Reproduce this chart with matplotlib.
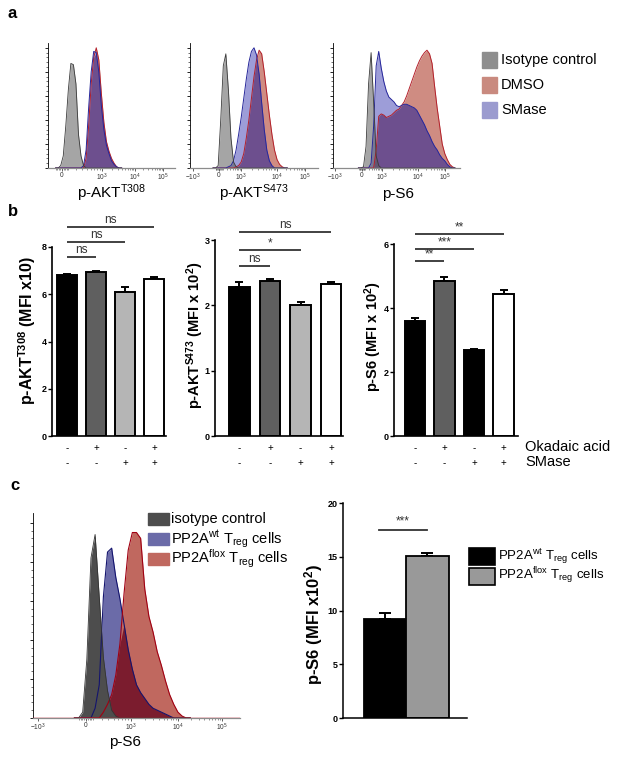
import matplotlib
matplotlib.use('Agg')
import matplotlib.pyplot as plt
import matplotlib.transforms as mtransforms
from matplotlib.patches import Rectangle
import numpy as np

plt.rcParams['font.family'] = ['Liberation Sans', 'DejaVu Sans']
plt.rcParams['mathtext.fontset'] = 'custom'
plt.rcParams['mathtext.rm'] = 'Liberation Sans'
plt.rcParams['mathtext.bf'] = 'Liberation Sans:bold'
plt.rcParams['mathtext.it'] = 'Liberation Sans:italic'
plt.rcParams['mathtext.default'] = 'regular'

# ---------------- data ----------------
# panel a: flow histograms, display channel (0-100) vs % of max
a1_chan = np.arange(6, 60, 2)
a1_iso = [0, 0, 2, 10, 35, 65, 87, 86, 70, 28, 10, 2, 0,
          0, 0, 0, 0, 0, 0, 0, 0, 0, 0, 0, 0, 0, 0]
a1_dmso = [0, 0, 0, 0, 0, 0, 0, 0, 0, 0, 0,
           0, 8, 35, 70, 92, 100, 90, 62, 38, 22, 14, 8, 4, 1, 0, 0]
a1_smase = [0, 0, 0, 0, 0, 0, 0, 0, 0, 0, 0,
            2, 15, 50, 80, 97, 96, 80, 52, 32, 19, 12, 6, 3, 1, 0, 0]

a2_chan = np.arange(18, 78, 2)
a2_iso = [0, 0, 2, 40, 85, 95, 65, 25, 5, 1, 0,
          0, 0, 0, 0, 0, 0, 0, 0, 0, 0, 0, 0, 0, 0, 0, 0, 0, 0, 0]
a2_smase = [0, 0, 0, 0, 0, 0,
            1, 2, 6, 15, 28, 42, 58, 74, 88, 97, 100, 94, 78, 54, 32, 15, 6, 2, 0,
            0, 0, 0, 0, 0]
a2_dmso = [0, 0, 0, 0, 0, 0, 0, 0, 0,
           1, 2, 5, 12, 25, 40, 58, 76, 90, 98, 95, 80, 62, 44, 28, 15, 7, 3, 1, 0, 0]

a3_chan = np.arange(20, 98, 2)
a3_iso = [0, 0, 1, 18, 70, 96, 55, 10, 2, 0] + [0] * 29
a3_smase = [0, 0, 0, 0, 0,
            4, 35, 85, 97, 83, 72, 64, 59, 57, 55, 52, 51, 52, 53, 53, 52, 51, 50,
            48, 44, 40, 36, 31, 27, 22, 18, 15, 11, 8, 6, 3, 1, 0, 0]
a3_dmso = [0, 0, 0, 0, 0, 0, 0,
           15, 43, 45, 44, 42, 43, 44, 46, 48, 49, 52, 55, 60, 66, 72, 78, 84, 89,
           93, 96, 98, 95, 87, 68, 50, 35, 20, 12, 7, 3, 1, 0]

# panel b: MFI bars
treat_labels = ['Okadaic acid', 'SMase']
okadaic = ['-', '+', '-', '+']
smase = ['-', '-', '+', '+']
akt308_mean = [6.80, 6.93, 6.10, 6.65]
akt308_err = [0.07, 0.05, 0.21, 0.09]
akt473_mean = [2.28, 2.38, 2.00, 2.32]
akt473_err = [0.08, 0.02, 0.05, 0.03]
s6_mean = [3.59, 4.84, 2.69, 4.44]
s6_err = [0.09, 0.14, 0.03, 0.12]
akt308_sig = ['ns', 'ns', 'ns']      # vs bar 2, 3, 4
akt473_sig = ['ns', '*', 'ns']
s6_sig = ['**', '***', '**']

# panel c
c_chan = np.arange(20, 78, 2)
c_iso = [0, 0, 3, 30, 82, 94, 62, 31, 14, 4, 1, 0] + [0] * 17
c_wt = [0, 0, 0, 0, 0,
        5, 17, 62, 85, 87, 72, 61, 48, 35, 25, 17, 13, 10, 7, 5, 4, 3, 2, 1, 0, 0, 0, 0, 0]
c_flox = [0, 0, 0, 0, 0, 0,
          0, 3, 7, 12, 22, 38, 64, 86, 95, 95, 92, 66, 52, 44, 34, 27, 19, 12, 7, 3, 1, 0, 0]
c_groups = [r'PP2A$^{wt}$ T$_{reg}$ cells', r'PP2A$^{flox}$ T$_{reg}$ cells']
c_mean = [9.2, 15.07]
c_err = [0.57, 0.30]
c_sig = '***'

# ---------------- figure ----------------
W, H = 618, 759
fig = plt.figure(figsize=(W / 100, H / 100), dpi=100)


def px_axes(x0, y0, x1, y1):
    return fig.add_axes([x0 / W, 1 - y1 / H, (x1 - x0) / W, (y1 - y0) / H])


def ftext(x, y, s, **kw):
    return fig.text(x / W, 1 - y / H, s, **kw)


def biex_minor(p0, p3, p4, p5):
    out = []
    d = p3 - p0
    for f in [-0.16, -0.12, -0.08, -0.04, 0.04, 0.08, 0.12, 0.16, 0.35, 0.5, 0.62, 0.72, 0.8, 0.87, 0.94]:
        out.append(p0 + f * d)
    for a, b in [(p3, p4), (p4, p5)]:
        for m in range(2, 10):
            out.append(a + (b - a) * np.log10(m))
    return [p for p in out if 0 <= p <= 100]


def hist_axes(ax, ticks, labels, ytop, axis_color='#8c8c8c'):
    ax.set_xlim(0, 100)
    ax.set_ylim(0, ytop)
    ax.spines['top'].set_visible(False)
    ax.spines['right'].set_visible(False)
    ax.spines['left'].set_linewidth(0.6)
    ax.spines['bottom'].set_color(axis_color)
    ax.spines['bottom'].set_linewidth(0.9)
    ax.set_yticks(np.arange(0, 101, 20))
    ax.set_yticks(np.arange(0, 101, 4), minor=True)
    ax.set_yticklabels([])
    ax.tick_params(axis='y', which='major', length=2.5, width=0.6)
    ax.tick_params(axis='y', which='minor', length=1.2, width=0.4)
    ax.set_xticks(ticks, labels)
    p0 = ticks[labels.index('0')]
    ax.set_xticks(biex_minor(p0, ticks[-3], ticks[-2], ticks[-1]), minor=True)
    ax.tick_params(axis='x', which='major', length=2.5, width=0.6, color='#444444',
                   labelsize=4.8, pad=0.5, labelcolor='#333333')
    ax.tick_params(axis='x', which='minor', length=1.4, width=0.4, color='#444444')
    ax.set_facecolor('none')


def panel_a_hist(ax, chan, iso, dmso, sm):
    dmso = np.array(dmso, float)
    sm = np.array(sm, float)
    ax.fill_between(chan, 0, dmso, color='#cf8c82', lw=0)
    ax.fill_between(chan, 0, sm, color='#9d9dd8', lw=0)
    ax.fill_between(chan, 0, np.minimum(dmso, sm), color='#6d4f8e', lw=0)
    ax.fill_between(chan, 0, iso, color='#5b5b5b', alpha=0.55, lw=0)
    ax.plot(chan, dmso, color='#b3202a', lw=0.7)
    ax.plot(chan, sm, color='#26269a', lw=0.7)
    ax.plot(chan, iso, color='#3a3a3a', lw=0.6)


# ---- panel a ----
ftext(8, 14, 'a', fontsize=12, fontweight='bold', va='center')
a_specs = [
    ((48, 43, 175, 168), a1_chan, a1_iso, a1_dmso, a1_smase,
     [11, 42.5, 68.5, 90.5], ['0', '$10^3$', '$10^4$', '$10^5$'], r'p-AKT$^{T308}$', 112),
    ((190, 43, 318, 168), a2_chan, a2_iso, a2_dmso, a2_smase,
     [2.3, 22.7, 39.8, 68, 90], ['$-10^3$', '0', '$10^3$', '$10^4$', '$10^5$'], r'p-AKT$^{S473}$', 254),
    ((333, 43, 460, 168), a3_chan, a3_iso, a3_dmso, a3_smase,
     [1.6, 22.8, 38.6, 67, 88], ['$-10^3$', '0', '$10^3$', '$10^4$', '$10^5$'], 'p-S6', 398),
]
for rect, chan, iso, dm, sm, ticks, labels, xlab, xc in a_specs:
    ax = px_axes(*rect)
    panel_a_hist(ax, chan, iso, dm, sm)
    hist_axes(ax, ticks, labels, 104)
    ftext(xc, 198, xlab, fontsize=11, ha='center', va='baseline')

a_leg = [('Isotype control', '#8e8e8e'), ('DMSO', '#c98a7f'), ('SMase', '#9b9bcf')]
for i, (lab, col) in enumerate(a_leg):
    yc = 60 + 25 * i
    fig.patches.append(Rectangle(((482) / W, 1 - (yc + 8) / H), 15 / W, 16 / H,
                                 transform=fig.transFigure, color=col))
    ftext(501, yc, lab, fontsize=10.5, va='center')

# ---- panel b ----
ftext(8, 212, 'b', fontsize=12, fontweight='bold', va='center')


def bar_panel(ax, means, errs, colors, ymax, ystep, xlim, sigs, sig_y):
    x = np.arange(len(means))
    ax.bar(x, means, width=0.68, color=colors, edgecolor='black', linewidth=1.4, zorder=2)
    ax.errorbar(x, means, yerr=[np.zeros(len(errs)), errs], fmt='none', ecolor='black',
                elinewidth=1.4, capsize=3, capthick=1.4, zorder=1)
    ax.set_xlim(*xlim)
    ax.set_ylim(0, ymax)
    ax.set_yticks(np.arange(0, ymax + 0.01, ystep))
    ax.set_xticks([])
    ax.spines['top'].set_visible(False)
    ax.spines['right'].set_visible(False)
    ax.spines['left'].set_linewidth(1.2)
    ax.spines['bottom'].set_linewidth(1.2)
    ax.tick_params(axis='y', length=3, width=1, labelsize=6.5, pad=1)
    for t in ax.get_yticklabels():
        t.set_fontweight('bold')
    for k, (lab, yy) in enumerate(zip(sigs, sig_y)):
        x1 = k + 1
        ax.plot([0, x1], [yy, yy], color='#333333', lw=1.3, clip_on=False,
                solid_capstyle='butt')
        ax.annotate(lab, xy=(x1 / 2, yy), xytext=(0, 0.5), textcoords='offset points',
                    ha='center', va='bottom', fontsize=8.5, color='#333333',
                    annotation_clip=False)
    tr = mtransforms.blended_transform_factory(ax.transData, fig.transFigure)
    for i in range(len(means)):
        ax.text(i, 1 - 448 / H, okadaic[i], transform=tr, ha='center', va='center', fontsize=7)
        ax.text(i, 1 - 463 / H, smase[i], transform=tr, ha='center', va='center', fontsize=7)


b_col = ['black', '#5f5f5f', '#b5b5b5', 'white']
ax = px_axes(52, 247, 166, 436)
bar_panel(ax, akt308_mean, akt308_err, b_col, 8, 2, (-0.52, 3.41), akt308_sig, [7.58, 8.21, 8.85])
ftext(27, 330, r'p-AKT$^{\mathbf{T308}}$ (MFI x10)', fontsize=11.5, fontweight='bold',
      rotation=90, ha='center', va='center')

ax = px_axes(215, 240, 343, 436)
bar_panel(ax, akt473_mean, akt473_err, b_col, 3, 1, (-0.8, 3.39), akt473_sig, [2.60, 2.85, 3.12])
ftext(195, 335, r'p-AKT$^{\mathbf{S473}}$ (MFI x 10$^{\mathbf{2}}$)', fontsize=10.5,
      fontweight='bold', rotation=90, ha='center', va='center')

ax = px_axes(394, 244, 518, 436)
bar_panel(ax, s6_mean, s6_err, ['black', '#5f5f5f', 'black', 'white'], 6, 2, (-0.71, 3.49),
          s6_sig, [5.47, 5.84, 6.31])
ftext(373, 337, r'p-S6 (MFI x 10$^{\mathbf{2}}$)', fontsize=10.5, fontweight='bold',
      rotation=90, ha='center', va='center')
ftext(525, 447, treat_labels[0], fontsize=10.5, va='center')
ftext(525, 462, treat_labels[1], fontsize=10.5, va='center')

# ---- panel c ----
ftext(10, 485, 'c', fontsize=12, fontweight='bold', va='center')
ax = px_axes(33, 513, 240, 718)
wt = np.array(c_wt, float)
fl = np.array(c_flox, float)
ax.fill_between(c_chan, 0, wt, color='#6b6ba8', lw=0)
ax.fill_between(c_chan, 0, fl, color='#c0685f', lw=0)
ax.fill_between(c_chan, 0, np.minimum(wt, fl), color='#7b1c2e', lw=0)
ax.plot(c_chan, wt, color='#14146e', lw=0.8)
ax.plot(c_chan, fl, color='#a00012', lw=0.8)
ax.fill_between(c_chan, 0, c_iso, color='#4d4d4d', lw=0)
ax.plot(c_chan, c_iso, color='#333333', lw=0.6)
ax.axhline(0, color='#c00010', lw=1.0, zorder=3)
hist_axes(ax, [2.4, 25.6, 47.3, 70, 91.3], ['$-10^3$', '0', '$10^3$', '$10^4$', '$10^5$'], 105)
ftext(125, 742, 'p-S6', fontsize=11, ha='center', va='center')

c_leg = [('isotype control', '#4d4d4d'), (c_groups[0], '#6b6ba8'), (c_groups[1], '#c0685f')]
for i, (lab, col) in enumerate(c_leg):
    yc = 519 + 20 * i
    fig.patches.append(Rectangle((148 / W, 1 - (yc + 6) / H), 21 / W, 12 / H,
                                 transform=fig.transFigure, color=col))
    ftext(171, yc, lab, fontsize=10.5, va='center')

ax = px_axes(343, 503, 467, 718)
xc = np.arange(len(c_mean))
ax.bar(xc, c_mean, width=1.0, color=['black', '#999999'], edgecolor='black', linewidth=1.3, zorder=2)
ax.errorbar(xc, c_mean, yerr=[np.zeros(2), c_err], fmt='none', ecolor='black', elinewidth=1.4,
            capsize=4, capthick=1.4, zorder=1)
ax.set_xlim(-1.01, 1.94)
ax.set_ylim(0, 20)
ax.set_yticks([0, 5, 10, 15, 20])
ax.set_xticks([])
ax.spines['top'].set_visible(False)
ax.spines['right'].set_visible(False)
ax.spines['left'].set_linewidth(1.1)
ax.spines['bottom'].set_linewidth(1.1)
ax.tick_params(axis='y', length=3, width=1, labelsize=6.5, pad=1)
for t in ax.get_yticklabels():
    t.set_fontweight('bold')
ax.plot([-0.15, 1.0], [17.5, 17.5], color='#333333', lw=1.3, clip_on=False)
ax.annotate(c_sig, xy=(0.42, 17.5), xytext=(0, 2), textcoords='offset points',
            ha='center', va='bottom', fontsize=8.5, color='#333333', annotation_clip=False)
ftext(314, 625, r'p-S6 (MFI x10$^{\mathbf{2}}$)', fontsize=12, fontweight='bold',
      rotation=90, ha='center', va='center')

for i, (lab, col) in enumerate(zip(c_groups, ['black', '#999999'])):
    yc = 556 + 20 * i
    fig.patches.append(Rectangle((469 / W, 1 - (yc + 8.5) / H), 26 / W, 17 / H,
                                 transform=fig.transFigure, facecolor=col,
                                 edgecolor='black', lw=1.2))
    ftext(498, yc, lab, fontsize=9.5, va='center')

fig.savefig('out.png', dpi=100)
